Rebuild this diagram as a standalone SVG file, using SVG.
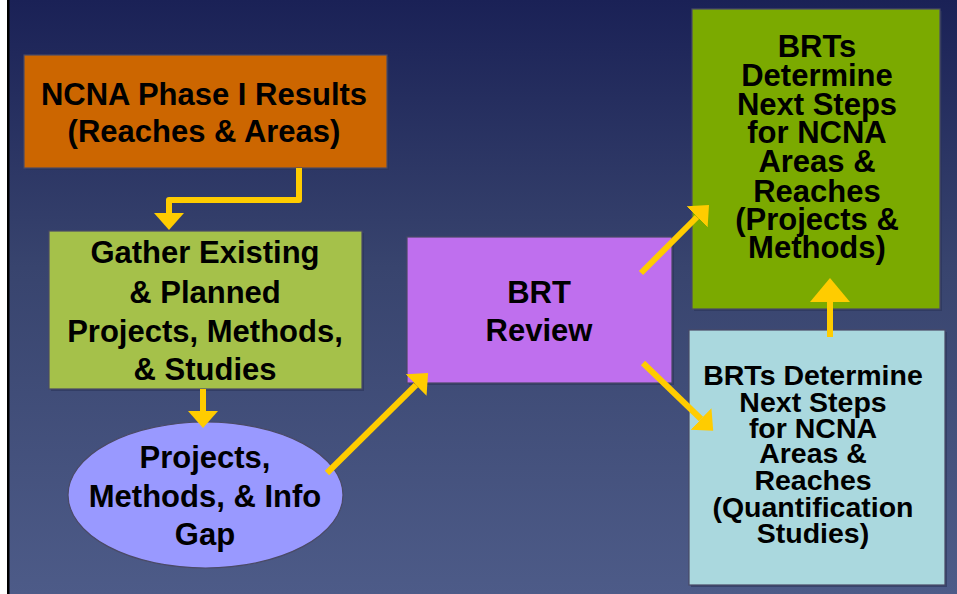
<svg xmlns="http://www.w3.org/2000/svg" width="957" height="594" viewBox="0 0 957 594">
  <defs>
    <linearGradient id="bg" x1="0" y1="0" x2="0" y2="1">
      <stop offset="0" stop-color="#1A2156"/>
      <stop offset="0.45" stop-color="#38446E"/>
      <stop offset="1" stop-color="#4D5B88"/>
    </linearGradient>
    <marker id="head" viewBox="0 0 17 30" refX="0" refY="15" markerWidth="17" markerHeight="30" markerUnits="userSpaceOnUse" orient="auto">
      <path d="M0,0 L17,15 L0,30 Z" fill="#FFCC00"/>
    </marker>
    <marker id="headBig" viewBox="0 0 24 40" refX="0" refY="20" markerWidth="24" markerHeight="40" markerUnits="userSpaceOnUse" orient="auto">
      <path d="M0,0 L24,20 L0,40 Z" fill="#FFCC00"/>
    </marker>
  </defs>
  <style>
    .box { stroke: #4A4A66; stroke-width: 1.2; }
    .shadow { fill: #2A3358; opacity: 0.6; }
    .t { font-family: "Liberation Sans", Arial, sans-serif; font-weight: bold; fill: #000000; text-anchor: middle; }
    .f31 { font-size: 31px; }
    .f285 { font-size: 28.5px; }
    .conn { fill: none; stroke: #FFCC00; stroke-width: 6; stroke-linejoin: round; }
  </style>

  <rect x="0" y="0" width="957" height="594" fill="url(#bg)"/>
  <rect x="0" y="0" width="7" height="594" fill="#FFFFFF"/>
  <rect x="7" y="0" width="2.5" height="594" fill="#000000"/>

  <g id="node-ncna-phase1">
    <rect class="shadow" x="26" y="57" width="363" height="113"/>
    <rect class="box" x="24" y="55" width="363" height="113" fill="#CC6600"/>
    <text class="t f31" x="204" y="105">NCNA Phase I Results</text>
    <text class="t f31" x="204" y="142">(Reaches &amp; Areas)</text>
  </g>

  <g id="node-gather">
    <rect class="shadow" x="51" y="233" width="313" height="158"/>
    <rect class="box" x="49" y="231" width="313" height="158" fill="#A5C14A"/>
    <text class="t f31" x="205" y="263">Gather Existing</text>
    <text class="t f31" x="205" y="303">&amp; Planned</text>
    <text class="t f31" x="205" y="342">Projects, Methods,</text>
    <text class="t f31" x="205" y="380">&amp; Studies</text>
  </g>

  <g id="node-gap">
    <ellipse class="box" cx="205.5" cy="495" rx="137.5" ry="73" fill="#9999FF"/>
    <text class="t f31" x="205" y="468">Projects,</text>
    <text class="t f31" x="205" y="507">Methods, &amp; Info</text>
    <text class="t f31" x="205" y="545">Gap</text>
  </g>

  <g id="node-brt-review">
    <rect class="shadow" x="409" y="239" width="265" height="146"/>
    <rect class="box" x="407" y="237" width="265" height="146" fill="#BF6FEE"/>
    <text class="t f31" x="539" y="303">BRT</text>
    <text class="t f31" x="539" y="341">Review</text>
  </g>

  <g id="node-projects-methods">
    <rect class="shadow" x="694" y="11" width="248" height="300"/>
    <rect class="box" x="692" y="9" width="248" height="300" fill="#7BAA00"/>
    <text class="t f31" x="817" y="57">BRTs</text>
    <text class="t f31" x="817" y="86">Determine</text>
    <text class="t f31" x="817" y="115">Next Steps</text>
    <text class="t f31" x="817" y="143">for NCNA</text>
    <text class="t f31" x="817" y="172">Areas &amp;</text>
    <text class="t f31" x="817" y="202">Reaches</text>
    <text class="t f31" x="817" y="230">(Projects &amp;</text>
    <text class="t f31" x="817" y="258">Methods)</text>
  </g>

  <g id="node-quantification">
    <rect class="shadow" x="691" y="332" width="256" height="255"/>
    <rect class="box" x="689" y="330" width="256" height="255" fill="#AAD8DE"/>
    <text class="t f285" x="813" y="385">BRTs Determine</text>
    <text class="t f285" x="813" y="412">Next Steps</text>
    <text class="t f285" x="813" y="438">for NCNA</text>
    <text class="t f285" x="813" y="463">Areas &amp;</text>
    <text class="t f285" x="813" y="490">Reaches</text>
    <text class="t f285" x="813" y="517">(Quantification</text>
    <text class="t f285" x="813" y="543">Studies)</text>
  </g>

  <g id="connectors">
    <path class="conn" d="M299,168 V200 H169 V213" marker-end="url(#head)"/>
    <path class="conn" d="M203,389 V411" marker-end="url(#head)"/>
    <path class="conn" d="M327,473 L416,385" marker-end="url(#head)"/>
    <path class="conn" d="M641,273 L697,217" marker-end="url(#head)"/>
    <path class="conn" d="M643,363 L701,419" marker-end="url(#head)"/>
    <path class="conn" d="M830,337 V302" marker-end="url(#headBig)"/>
  </g>
</svg>
